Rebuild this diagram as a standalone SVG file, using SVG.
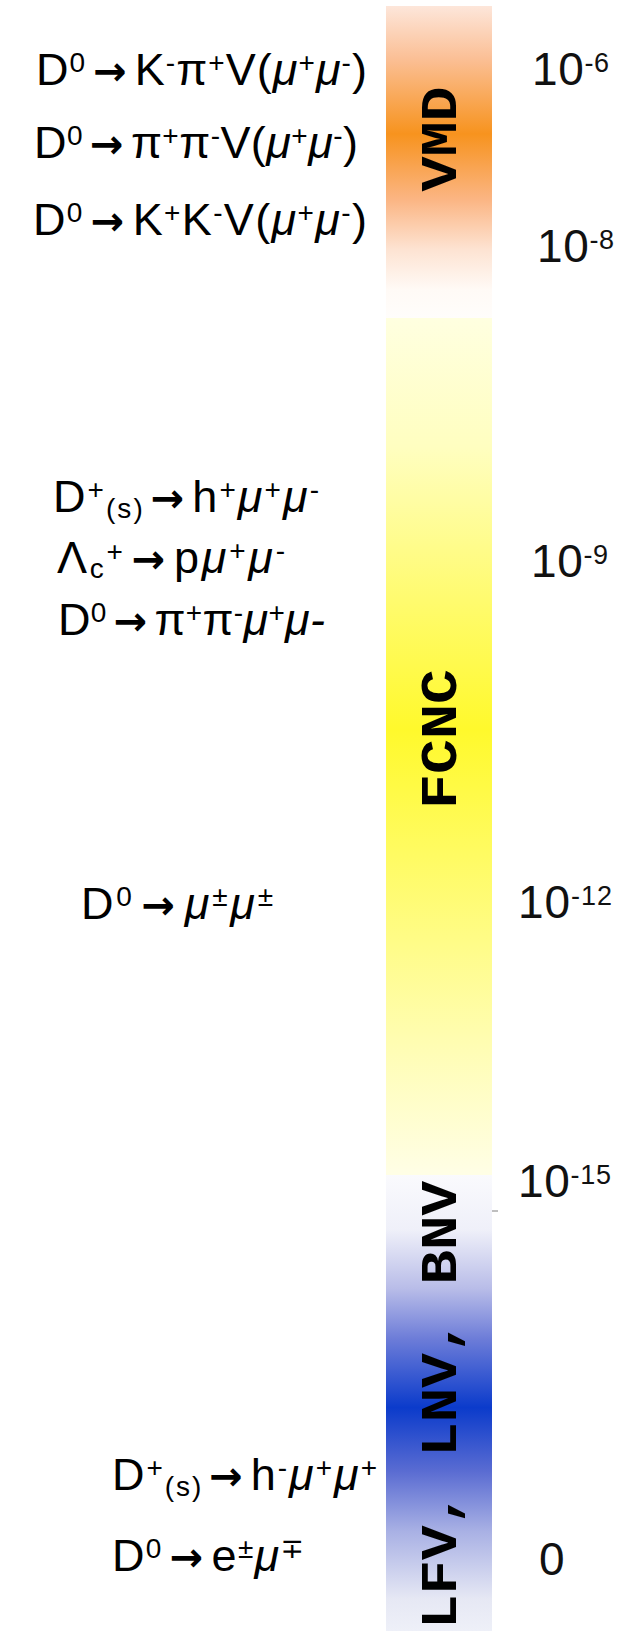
<svg xmlns="http://www.w3.org/2000/svg" width="623" height="1631" viewBox="0 0 623 1631">
<style>
.t{font-family:"Liberation Sans",Arial,"DejaVu Sans",sans-serif;font-size:45px;fill:#000}
.n{font-family:"Liberation Sans",Arial,sans-serif;font-size:46px;fill:#111}
.sp{font-size:28px}
.sn{font-size:27px}
.it{font-style:italic}
.ar{font-family:"DejaVu Sans",sans-serif;font-weight:bold;font-size:40px}
.r{font-family:"Liberation Mono","DejaVu Sans Mono",monospace;font-weight:bold;font-size:52px;fill:#000}
</style>
<defs>
<linearGradient id="gOrange" gradientUnits="userSpaceOnUse" x1="0" y1="6" x2="0" y2="318">
<stop offset="0" stop-color="#fde6da"/>
<stop offset="0.17" stop-color="#fbbf95"/>
<stop offset="0.41" stop-color="#f7931e"/>
<stop offset="0.62" stop-color="#fbb583"/>
<stop offset="0.78" stop-color="#fde3d2"/>
<stop offset="0.91" stop-color="#fffaf6"/>
<stop offset="1" stop-color="#fffdfb"/>
</linearGradient>
<linearGradient id="gYellow" gradientUnits="userSpaceOnUse" x1="0" y1="318" x2="0" y2="1175">
<stop offset="0" stop-color="#ffffe0"/>
<stop offset="0.15" stop-color="#fffec0"/>
<stop offset="0.33" stop-color="#fffb6e"/>
<stop offset="0.48" stop-color="#fff92c"/>
<stop offset="0.62" stop-color="#fffb60"/>
<stop offset="0.84" stop-color="#fffdb0"/>
<stop offset="1" stop-color="#fffee6"/>
</linearGradient>
<linearGradient id="gBlue" gradientUnits="userSpaceOnUse" x1="0" y1="1175" x2="0" y2="1631">
<stop offset="0" stop-color="#fafafd"/>
<stop offset="0.12" stop-color="#eff0f9"/>
<stop offset="0.25" stop-color="#b8bce8"/>
<stop offset="0.36" stop-color="#6c7cd8"/>
<stop offset="0.51" stop-color="#0b3bcb"/>
<stop offset="0.65" stop-color="#5a6cd2"/>
<stop offset="0.78" stop-color="#a8b0e4"/>
<stop offset="0.93" stop-color="#e6e8f4"/>
<stop offset="1" stop-color="#eef0f8"/>
</linearGradient>
</defs>

<g id="scale-bar">
<rect id="band-vmd" x="386" y="6" width="106" height="312" fill="url(#gOrange)"/>
<rect id="band-fcnc" x="386" y="318" width="106" height="857" fill="url(#gYellow)"/>
<rect id="band-lfv" x="386" y="1175" width="106" height="456" fill="url(#gBlue)"/>
<line x1="492" y1="1211" x2="498" y2="1211" stroke="#aaa" stroke-width="1.5"/>
</g>

<g id="band-labels">
<text id="lbl-vmd" class="r" transform="translate(456,139) rotate(-90)" text-anchor="middle" textLength="105" lengthAdjust="spacingAndGlyphs">VMD</text>
<text id="lbl-fcnc" class="r" transform="translate(456,739) rotate(-90)" text-anchor="middle" textLength="140" lengthAdjust="spacingAndGlyphs">FCNC</text>
<text id="lbl-lfv" class="r" transform="translate(456,1181) rotate(-90)" text-anchor="end" textLength="448" lengthAdjust="spacingAndGlyphs">LFV, LNV, BNV</text>
</g>

<g id="decays">
<g id="d1"><text class="t" x="36" y="85" textLength="331" lengthAdjust="spacing">D<tspan class="sp" dy="-13">0</tspan><tspan class="ar" dy="13" dx="7">→</tspan><tspan dx="7">K</tspan><tspan class="sp" dy="-13">-</tspan><tspan dy="13">π</tspan><tspan class="sp" dy="-13">+</tspan><tspan dy="13">V(</tspan><tspan class="it">μ</tspan><tspan class="sp" dy="-13">+</tspan><tspan class="it" dy="13">μ</tspan><tspan class="sp" dy="-13">-</tspan><tspan dy="13">)</tspan></text></g>
<g id="d2"><text class="t" x="34" y="158" textLength="324" lengthAdjust="spacing">D<tspan class="sp" dy="-13">0</tspan><tspan class="ar" dy="13" dx="7">→</tspan><tspan dx="7">π</tspan><tspan class="sp" dy="-13">+</tspan><tspan dy="13">π</tspan><tspan class="sp" dy="-13">-</tspan><tspan dy="13">V(</tspan><tspan class="it">μ</tspan><tspan class="sp" dy="-13">+</tspan><tspan class="it" dy="13">μ</tspan><tspan class="sp" dy="-13">-</tspan><tspan dy="13">)</tspan></text></g>
<g id="d3"><text class="t" x="33" y="235" textLength="334" lengthAdjust="spacing">D<tspan class="sp" dy="-13">0</tspan><tspan class="ar" dy="13" dx="7">→</tspan><tspan dx="7">K</tspan><tspan class="sp" dy="-13">+</tspan><tspan dy="13">K</tspan><tspan class="sp" dy="-13">-</tspan><tspan dy="13">V(</tspan><tspan class="it">μ</tspan><tspan class="sp" dy="-13">+</tspan><tspan class="it" dy="13">μ</tspan><tspan class="sp" dy="-13">-</tspan><tspan dy="13">)</tspan></text></g>
<g id="d4"><text class="t" x="53" y="512" textLength="266" lengthAdjust="spacing">D<tspan class="sp" dy="-13">+</tspan><tspan class="sp" dy="19">(s)</tspan><tspan class="ar" dy="-6" dx="6">→</tspan><tspan dx="6">h</tspan><tspan class="sp" dy="-13">+</tspan><tspan class="it" dy="13">μ</tspan><tspan class="sp" dy="-13">+</tspan><tspan class="it" dy="13">μ</tspan><tspan class="sp" dy="-13">-</tspan></text></g>
<g id="d5"><text class="t" x="57" y="573" textLength="228" lengthAdjust="spacing">Λ<tspan class="sp" dy="5">c</tspan><tspan class="sp" dy="-17">+</tspan><tspan class="ar" dy="12" dx="6">→</tspan><tspan dx="6">p</tspan><tspan class="it">μ</tspan><tspan class="sp" dy="-13">+</tspan><tspan class="it" dy="13">μ</tspan><tspan class="sp" dy="-13">-</tspan></text></g>
<g id="d6"><text class="t" x="58" y="635" textLength="267" lengthAdjust="spacing">D<tspan class="sp" dy="-13">0</tspan><tspan class="ar" dy="13" dx="7">→</tspan><tspan dx="7">π</tspan><tspan class="sp" dy="-13">+</tspan><tspan dy="13">π</tspan><tspan class="sp" dy="-13">-</tspan><tspan class="it" dy="13">μ</tspan><tspan class="sp" dy="-13">+</tspan><tspan class="it" dy="13">μ</tspan><tspan class="it">-</tspan></text></g>
<g id="d7"><text class="t" x="81" y="919" textLength="192" lengthAdjust="spacing">D<tspan class="sp" dy="-13">0</tspan><tspan class="ar" dy="13" dx="7">→</tspan><tspan class="it" dx="7">μ</tspan><tspan class="sp" dy="-13">±</tspan><tspan class="it" dy="13">μ</tspan><tspan class="sp" dy="-13">±</tspan></text></g>
<g id="d8"><text class="t" x="112" y="1490" textLength="265" lengthAdjust="spacing">D<tspan class="sp" dy="-13">+</tspan><tspan class="sp" dy="19">(s)</tspan><tspan class="ar" dy="-6" dx="6">→</tspan><tspan dx="6">h</tspan><tspan class="sp" dy="-13">-</tspan><tspan class="it" dy="13">μ</tspan><tspan class="sp" dy="-13">+</tspan><tspan class="it" dy="13">μ</tspan><tspan class="sp" dy="-13">+</tspan></text></g>
<g id="d9"><text class="t" x="112" y="1571" textLength="192" lengthAdjust="spacing">D<tspan class="sp" dy="-13">0</tspan><tspan class="ar" dy="13" dx="7">→</tspan><tspan dx="7">e</tspan><tspan class="sp" dy="-13">±</tspan><tspan class="it" dy="13">μ</tspan><tspan class="sp" dy="-13">∓</tspan></text></g>
</g>

<g id="scale-values">
<g id="v6"><text class="n" x="532" y="85" textLength="77" lengthAdjust="spacing">10<tspan class="sn" dy="-13">-6</tspan></text></g>
<g id="v8"><text class="n" x="537" y="262" textLength="77" lengthAdjust="spacing">10<tspan class="sn" dy="-13">-8</tspan></text></g>
<g id="v9"><text class="n" x="531" y="577" textLength="77" lengthAdjust="spacing">10<tspan class="sn" dy="-13">-9</tspan></text></g>
<g id="v12"><text class="n" x="518" y="918" textLength="94" lengthAdjust="spacing">10<tspan class="sn" dy="-13">-12</tspan></text></g>
<g id="v15"><text class="n" x="518" y="1197" textLength="93" lengthAdjust="spacing">10<tspan class="sn" dy="-13">-15</tspan></text></g>
<g id="v0"><text class="n" x="539" y="1575">0</text></g>
</g>
</svg>
